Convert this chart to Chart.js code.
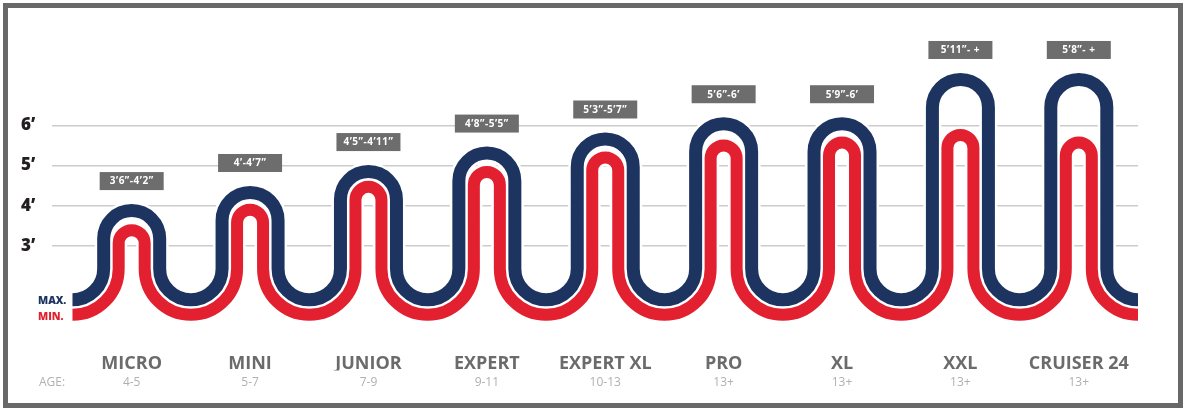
<!DOCTYPE html>
<html>
<head>
<meta charset="utf-8">
<script src="https://cdn.jsdelivr.net/npm/chart.js@4.4.1/dist/chart.umd.min.js"></script>
<style>
  html, body { margin: 0; padding: 0; background: #fff; }
  #wrap { position: relative; width: 1186px; height: 410px; }
  #frame { position: absolute; left: 3px; top: 3px; width: 1180px; height: 405px; border: 5px solid #686868; box-sizing: border-box; pointer-events: none; }
</style>
</head>
<body>
<div id="wrap">
  <canvas id="sizeChart" width="1186" height="410"></canvas>
  <div id="frame"></div>
</div>
<script>
// sizes, rider height ranges and ages
const categories = ['MICRO', 'MINI', 'JUNIOR', 'EXPERT', 'EXPERT XL', 'PRO', 'XL', 'XXL', 'CRUISER 24'];
const ages = ['4-5', '5-7', '7-9', '9-11', '10-13', '13+', '13+', '13+', '13+'];
const ageTitle = 'AGE:';
const ranges = ['3’6”-4’2”', '4’-4’7”', '4’5”-4’11”', '4’8”-5’5”', '5’3”-5’7”', '5’6”-6’', '5’9”-6’', '5’11”- +', '5’8”- +'];

// peak height of each wave (feet)
const maxPeak = [3.88, 4.33, 4.85, 5.31, 5.66, 6.04, 6.04, 7.14, 7.14];
const minPeak = [3.39, 3.90, 4.47, 4.84, 5.20, 5.50, 5.57, 5.76, 5.57];
const waveBase = 1.66;
const yTicks = [3, 4, 5, 6];

const NAVY = '#1d3461';
const RED = '#e3202f';
const R_TOP = 28;   // px radius of the max arch
const GAP = 15;     // px between max and min lines

const wavePlugin = {
    id: 'waves',
    afterDatasetsDraw(chart) {
        const ctx = chart.ctx;
        const xs = chart.scales.x;
        const ys = chart.scales.y;
        const half = (xs.getPixelForValue(1) - xs.getPixelForValue(0)) / 2;
        const baseY = ys.getPixelForValue(waveBase);

        const paths = chart.data.datasets.map((ds, d) => {
            const pts = chart.getDatasetMeta(d).data;
            const rTop = R_TOP - d * GAP;
            const bottom = baseY + d * GAP;
            const rV = half - rTop;
            const cy = bottom - rV;
            const p = new Path2D();
            p.moveTo(pts[0].x - half, bottom);
            pts.forEach((pt, i) => {
                const m = pt.x - half;
                if (i === 0) p.arc(m, cy, rV, Math.PI / 2, 0, true);
                else p.arc(m, cy, rV, Math.PI, 0, true);
                p.lineTo(pt.x - rTop, pt.y + rTop);
                p.arc(pt.x, pt.y + rTop, rTop, Math.PI, 0, false);
                p.lineTo(pt.x + rTop, cy);
            });
            p.arc(pts[pts.length - 1].x + half, cy, rV, Math.PI, Math.PI / 2, true);
            return { p, ds };
        });

        ctx.save();
        ctx.lineCap = 'butt';
        ctx.lineJoin = 'round';
        paths.forEach(({ p, ds }) => {
            ctx.strokeStyle = '#ffffff';
            ctx.lineWidth = ds.borderWidth + 5;
            ctx.stroke(p);
        });
        paths.forEach(({ p, ds }) => {
            ctx.strokeStyle = ds.borderColor;
            ctx.lineWidth = ds.borderWidth;
            ctx.stroke(p);
        });

        // range boxes above each max arch
        const maxDs = chart.data.datasets[0];
        chart.getDatasetMeta(0).data.forEach((pt, i) => {
            const boxBottom = pt.y - maxDs.borderWidth / 2 - 14;
            ctx.fillStyle = '#6d6d6d';
            ctx.fillRect(pt.x - 32, boxBottom - 18, 64, 18);
            ctx.fillStyle = '#ffffff';
            ctx.font = '700 10px "Open Sans"';
            ctx.letterSpacing = '0.5px';
            ctx.textAlign = 'center';
            ctx.textBaseline = 'middle';
            ctx.fillText(ranges[i], pt.x, boxBottom - 8.5);
        });

        // MAX. / MIN. tags
        ctx.letterSpacing = '0px';
        ctx.textAlign = 'left';
        ctx.font = '800 10.5px "Open Sans"';
        ctx.fillStyle = NAVY;
        ctx.fillText('MAX.', 38, baseY + 1);
        ctx.fillStyle = RED;
        ctx.fillText('MIN.', 38, baseY + GAP + 2);
        ctx.restore();
    }
};

const xMin = -0.673;
const xMax = 8.5;

new Chart(document.getElementById('sizeChart'), {
    type: 'line',
    data: {
        datasets: [
            {
                label: 'MAX.',
                data: maxPeak.map((v, i) => ({ x: i, y: v })),
                borderColor: NAVY,
                borderWidth: 13,
                showLine: false,
                pointRadius: 0
            },
            {
                label: 'MIN.',
                data: minPeak.map((v, i) => ({ x: i, y: v })),
                borderColor: RED,
                borderWidth: 12,
                showLine: false,
                pointRadius: 0
            }
        ]
    },
    options: {
        responsive: false,
        animation: false,
        events: [],
        layout: { padding: { left: 21, right: 48, top: 65, bottom: 0 } },
        plugins: { legend: { display: false }, tooltip: { enabled: false } },
        scales: {
            x: {
                type: 'linear',
                min: xMin,
                max: xMax,
                position: 'bottom',
                weight: 0,
                grid: { display: false, drawTicks: false },
                border: { display: false },
                afterBuildTicks: s => { s.ticks = categories.map((c, i) => ({ value: i })); },
                afterFit: s => { s.height = 44; },
                ticks: {
                    autoSkip: false,
                    maxRotation: 0,
                    padding: 27,
                    color: '#6b6b6b',
                    font: { family: 'Open Sans', size: 18, weight: '700' },
                    callback: v => categories[v]
                }
            },
            xAge: {
                type: 'linear',
                min: xMin,
                max: xMax,
                position: 'bottom',
                weight: 1,
                grid: { display: false, drawTicks: false },
                border: { display: false },
                afterBuildTicks: s => {
                    s.ticks = [{ value: xMin }].concat(ages.map((a, i) => ({ value: i })));
                },
                afterFit: s => { s.height = 39.6; },
                ticks: {
                    autoSkip: false,
                    maxRotation: 0,
                    padding: 5,
                    color: '#b0b0b0',
                    font: { family: 'Open Sans', size: 12 },
                    callback: v => (v < 0 ? ageTitle : ages[v])
                }
            },
            y: {
                min: 1,
                max: 7.5,
                afterBuildTicks: s => { s.ticks = yTicks.map(v => ({ value: v })); },
                afterFit: s => { s.width = 31; },
                grid: { color: '#cccccc', lineWidth: 1.5, drawTicks: false },
                border: { display: false },
                ticks: {
                    crossAlign: 'far',
                    padding: 0,
                    color: '#231f20',
                    font: { family: 'Open Sans', size: 17, weight: '800' },
                    callback: v => v + '’'
                }
            }
        }
    },
    plugins: [wavePlugin]
});
</script>
</body>
</html>
